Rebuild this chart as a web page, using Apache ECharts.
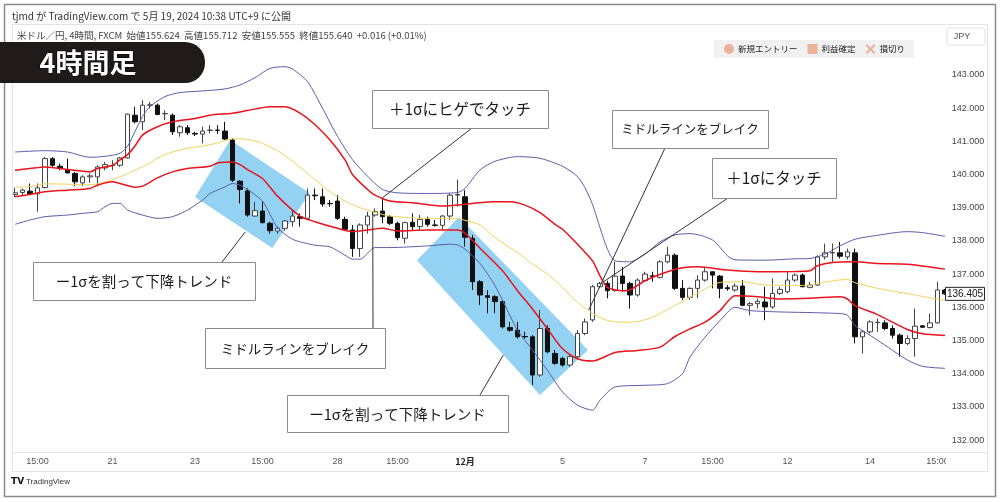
<!DOCTYPE html>
<html><head><meta charset="utf-8">
<script src="https://cdn.jsdelivr.net/npm/echarts@6/dist/echarts.min.js"></script>
<style>html,body{margin:0;padding:0;background:#fff}#c{width:1000px;height:502px}</style>
</head><body><div id="c"></div>
<script>
// ---- data: 4h candles [open, close, low, high] ----
const candles = [
[139.40,139.45,139.32,139.60],[139.46,139.53,139.38,139.58],[139.50,139.42,139.38,139.73],[139.42,139.60,138.88,139.73],
[139.61,140.48,139.58,140.53],[140.48,140.28,140.23,140.53],[140.25,140.18,140.13,140.33],[140.15,140.05,140.03,140.48],
[140.03,139.78,139.65,140.08],[139.75,139.93,139.65,139.98],[139.93,139.96,139.75,140.03],[139.93,140.23,139.65,140.28],
[140.20,140.30,140.13,140.38],[140.27,140.28,140.13,140.43],[140.28,140.50,140.23,140.53],[140.50,141.82,140.48,141.84],
[141.79,141.59,141.54,142.04],[141.59,142.09,141.34,142.24],[142.09,142.10,141.99,142.19],[142.09,141.81,141.79,142.14],
[141.83,141.84,141.64,141.94],[141.79,141.29,141.19,141.84],[141.26,141.44,141.14,141.49],[141.41,141.26,141.19,141.49],
[141.24,141.22,141.16,141.29],[141.22,141.31,140.94,141.44],[141.33,141.34,141.24,141.49],[141.34,141.33,141.22,141.49],
[141.31,141.07,141.04,141.59],[141.04,139.83,139.78,141.09],[139.80,139.55,139.13,139.83],[139.51,138.78,138.73,139.58],
[138.75,138.91,138.73,139.18],[138.90,138.55,138.53,139.18],[138.53,138.31,138.22,138.58],[138.30,138.38,138.22,138.43],
[138.38,138.60,138.31,138.63],[138.58,138.75,138.43,138.93],[138.73,138.68,138.43,138.83],[138.68,139.38,138.63,139.58],
[139.38,139.36,139.23,139.58],[139.33,139.11,139.03,139.58],[139.13,139.12,139.03,139.23],[139.20,138.68,138.63,139.38],
[138.65,138.35,138.33,138.73],[138.33,137.77,137.52,138.48],[137.77,138.48,137.52,138.53],[138.48,138.75,138.22,138.88],
[138.78,138.88,138.73,138.98],[138.90,138.73,138.53,139.30],[138.73,138.53,138.48,138.78],[138.53,138.10,138.02,138.58],
[138.08,138.55,137.92,138.58],[138.56,138.43,138.33,138.83],[138.43,138.65,138.33,138.78],[138.65,138.50,138.43,138.73],
[138.48,138.47,138.43,138.63],[138.47,138.75,138.33,138.78],[138.75,139.38,138.63,139.43],[139.38,139.40,139.03,139.85],
[139.33,138.11,137.83,139.53],[138.08,136.77,136.52,138.18],[136.77,136.37,136.07,136.82],[136.35,136.30,135.82,136.52],
[136.32,136.17,135.82,136.37],[136.17,135.41,135.36,136.22],[135.39,135.31,135.26,135.56],[135.31,135.11,135.06,135.56],
[135.12,135.11,135.06,135.26],[135.11,133.96,133.66,135.16],[133.96,135.36,133.91,135.92],[135.36,134.66,134.61,135.46],
[134.61,134.31,134.26,134.71],[134.46,134.26,134.21,134.51],[134.26,134.51,134.21,134.56],[134.51,135.21,134.46,135.31],
[135.21,135.56,135.16,135.66],[135.62,136.62,135.56,136.67],[136.62,136.72,136.57,136.77],[136.72,136.50,136.27,136.80],
[136.51,136.94,136.47,137.37],[136.94,136.72,136.47,137.22],[136.72,136.37,135.96,136.77],[136.37,136.82,136.32,136.87],
[136.80,137.00,136.77,137.07],[136.95,136.93,136.77,137.07],[136.90,137.37,136.87,137.42],[137.37,137.57,137.32,137.82],
[137.57,136.57,136.52,137.62],[136.57,136.30,136.22,136.82],[136.30,136.57,136.22,136.60],[136.57,136.82,136.27,136.97],
[136.82,137.07,136.77,137.22],[137.07,136.97,136.57,137.07],[136.94,136.57,136.27,136.97],[136.59,136.56,136.50,136.67],
[136.52,136.64,136.47,136.72],[136.64,136.06,136.03,136.82],[136.06,136.11,135.76,136.16],[136.11,136.18,135.96,136.26],
[136.16,136.01,135.61,136.62],[136.01,136.42,135.96,136.87],[136.42,136.54,136.37,136.62],[136.47,136.82,136.42,137.07],
[136.82,136.97,136.77,137.02],[136.97,136.62,136.60,137.02],[136.60,136.67,136.57,136.77],[136.67,137.52,136.64,137.57],
[137.52,137.64,137.44,137.92],[137.64,137.65,137.37,137.92],[137.64,137.54,137.47,137.97],[137.52,137.67,137.44,137.77],
[137.64,135.11,134.91,137.77],[135.11,135.26,134.61,135.31],[135.26,135.56,135.21,135.61],[135.54,135.55,135.26,135.66],
[135.53,135.36,135.31,135.61],[135.36,135.16,135.06,135.46],[135.16,134.91,134.51,135.21],[134.91,135.06,134.86,135.16],
[135.06,135.43,134.51,135.96],[135.44,135.40,135.38,135.46],[135.39,135.53,135.36,135.81],[135.53,136.52,135.51,136.77],
[136.52,136.405,136.38,136.55]
];
// ---- Bollinger band lines: [candle index, price] ----
const upper2 = [[0,140.68],[4,140.72],[7,140.68],[10,140.52],[12,140.55],[14,140.64],[15,140.85],[16,141.3],[17,141.75],[18,142.05],[20,142.35],[22,142.47],[25,142.52],[28,142.58],[30,142.7],[32,142.92],[34,143.2],[36,143.25],[37,143.18],[39,142.8],[41,142.0],[43,141.15],[45,140.45],[47,139.95],[49,139.55],[51,139.45],[55,139.43],[59,139.46],[60,139.58],[62,140.14],[64,140.4],[67,140.54],[70,140.49],[73,140.25],[75,139.94],[76,139.6],[77,139.1],[78,138.4],[79,137.75],[80,137.4],[82,137.37],[84,137.6],[86,137.97],[88,138.18],[90,138.22],[93,138.03],[95,137.55],[96,137.43],[100,137.42],[104,137.46],[106,137.47],[108,137.6],[110,137.85],[112,138.05],[115,138.17],[119,138.28],[121,138.25],[124,138.14]];
const upper1 = [[0,140.13],[2,140.18],[4,140.23],[6,140.18],[8,140.13],[10,140.08],[11,140.18],[13,140.28],[14,140.44],[15,140.6],[16,140.86],[17,141.19],[19,141.44],[21,141.59],[24,141.69],[26,141.79],[29,141.85],[31,141.93],[34,142.04],[36,142.04],[38,141.85],[40,141.5],[42,141.04],[44,140.44],[45,140.0],[47,139.55],[48,139.38],[50,139.2],[53,139.15],[57,139.05],[59,139.08],[61,139.13],[64,139.18],[66,139.18],[68,139.08],[70,138.85],[72,138.5],[73,138.35],[75,137.9],[77,137.4],[78,136.95],[79,136.6],[81,136.5],[82,136.52],[84,136.8],[87,137.07],[89,137.19],[91,137.22],[95,137.12],[99,137.07],[104,137.08],[106,137.1],[107,137.25],[109,137.35],[112,137.37],[115,137.32],[119,137.3],[124,137.15]];
const middle = [[0,139.62],[2,139.64],[4,139.72],[7,139.71],[9,139.69],[11,139.72],[13,139.85],[14,139.93],[16,140.13],[18,140.35],[19,140.5],[21,140.68],[23,140.79],[26,140.9],[28,141.02],[29,141.08],[31,141.06],[33,140.94],[35,140.72],[37,140.4],[40,139.85],[42,139.48],[44,139.2],[46,139.0],[48,138.86],[50,138.75],[55,138.68],[59,138.68],[60,138.62],[62,138.48],[64,138.1],[67,137.65],[69,137.3],[71,137.0],[73,136.6],[75,136.15],[77,135.82],[79,135.6],[81,135.55],[83,135.57],[85,135.7],[87,135.93],[90,136.3],[92,136.55],[94,136.75],[97,136.77],[100,136.67],[104,136.66],[106,136.67],[108,136.76],[111,136.84],[112,136.74],[115,136.57],[118,136.45],[120,136.37],[124,136.2]];
const lower1 = [[0,139.33],[2,139.4],[4,139.48],[7,139.53],[10,139.58],[11,139.68],[13,139.78],[14,139.73],[16,139.62],[17,139.65],[19,139.9],[21,140.08],[23,140.18],[26,140.25],[27,140.35],[29,140.38],[30,140.3],[31,140.15],[33,139.88],[35,139.35],[38,138.75],[40,138.58],[43,138.38],[45,138.28],[47,138.33],[49,138.38],[51,138.3],[55,138.33],[59,138.33],[60,138.23],[62,137.78],[65,137.1],[67,136.5],[69,135.95],[71,135.35],[73,134.75],[75,134.45],[77,134.38],[80,134.64],[83,134.7],[86,134.8],[88,135.12],[90,135.35],[92,135.55],[94,135.9],[96,136.35],[99,136.32],[102,136.25],[106,136.27],[110,136.32],[111,136.25],[112,136.05],[115,135.78],[119,135.33],[121,135.2],[124,135.15]];
const lower2 = [[0,138.5],[2,138.63],[4,138.73],[7,138.78],[9,138.83],[11,138.88],[12,139.03],[13,139.13],[14,139.13],[15,138.93],[17,138.78],[19,138.68],[21,138.73],[23,138.93],[25,139.23],[26,139.43],[28,139.63],[29,139.73],[30,139.68],[31,139.55],[33,139.2],[34,138.8],[35,138.4],[37,138.05],[40,137.87],[42,137.82],[44,137.57],[45,137.45],[46,137.45],[48,137.8],[50,137.8],[55,137.85],[58,137.9],[59,137.88],[60,137.75],[62,137.32],[64,136.65],[66,135.75],[67,135.3],[69,134.71],[71,134.1],[73,133.45],[75,133.05],[77,132.9],[78,133.2],[80,133.6],[84,133.65],[87,133.7],[89,134.0],[90,134.5],[92,135.1],[94,135.6],[96,136.0],[98,135.9],[102,135.86],[106,135.84],[110,135.81],[111,135.76],[112,135.45],[113,135.3],[115,135.01],[119,134.41],[121,134.22],[124,134.16]];
// x tick labels: [candle index, label]
const xTickLabels = [[3,'15:00'],[13,'21'],[24,'23'],[33,'15:00'],[43,'28'],[51,'15:00'],[60,'12月'],[73,'5'],[84,'7'],[93,'15:00'],[103,'12'],[114,'14'],[123,'15:00']];
const boldTicks = ['12月'];
// trend zones (rotated rectangles) corners: [candle index, price]
const trendZones = [
  [[24,139.32],[28.7,141.04],[39.3,139.44],[34.3,137.79]],
  [[53.6,137.42],[59.2,138.72],[76.4,134.71],[70,133.36]]
];
const legendNames = ['新規エントリー','利益確定','損切り'];
const lastPrice = 136.405;
// annotations: text, tip in data coords
const notes = [
  {text:'＋1σにヒゲでタッチ', tip:[49,139.30]},
  {text:'ミドルラインをブレイク', tip:[76.5,135.92]},
  {text:'＋1σにタッチ', tip:[78.4,136.76]},
  {text:'ー1σを割って下降トレンド', tip:[30.7,138.27]},
  {text:'ミドルラインをブレイク', tip:[47.7,138.87]},
  {text:'ー1σを割って下降トレンド', tip:[65.1,134.56]}
];
// layout of annotation boxes (pixels) and line start
const noteLayout = [
  {box:[372,90,176,38], from:[472,128], size:15.5},
  {box:[612,110,156,38], from:[665,148], size:12.5},
  {box:[712,158,124,40], from:[728,198], size:15.5},
  {box:[33,262,222,38], from:[222,262], size:14.5},
  {box:[205,328,180,40], from:[373,328], size:13.5},
  {box:[287,395,221,37], from:[480,395], size:14.5}
];

const N = candles.length;
const cats = candles.map((_, i) => String(i));
const labelMap = new Map(xTickLabels);
const chart = echarts.init(document.getElementById('c'), null, {renderer:'canvas'});
const lineS = (name, data, color, w) => ({name, type:'line', xAxisIndex:1, yAxisIndex:0, data, symbol:'none', showSymbol:false,
  smooth:0.25, lineStyle:{color, width:w}, z:4, silent:true});
const salmon = '#e9a282';
const option = {
  animation:false,
  backgroundColor:'#ffffff',
  grid:{left:11.25, right:51.25, top:8.64, bottom:28.8, containLabel:false},
  legend:{data:[{name:legendNames[0], icon:'circle'},{name:legendNames[1], icon:'rect'},
    {name:legendNames[2], icon:'path://M1.5,0L5,3.5L8.5,0L10,1.5L6.5,5L10,8.5L8.5,10L5,6.5L1.5,10L0,8.5L3.5,5L0,1.5Z'}],
    left:714, top:40, itemWidth:10, itemHeight:10, itemGap:10, padding:[4,9,4,10], backgroundColor:'#f1f1f1',
    selectedMode:false, textStyle:{fontSize:8.5, color:'#1a1a1a', fontFamily:'Noto Sans CJK JP', padding:[0,0,0,-1]}},
  xAxis:[
    {type:'category', data:cats, boundaryGap:true, offset:-20, axisLine:{show:false}, axisTick:{show:false}, splitLine:{show:false},
     axisLabel:{interval:0, margin:4, fontSize:9, color:'#555', fontFamily:'Liberation Sans',
       formatter:(v, i) => { const l = labelMap.get(i); if (!l) return ''; return boldTicks.includes(l) ? '{b|' + l + '}' : l; },
       rich:{b:{fontWeight:'bold', fontSize:9, color:'#222', fontFamily:'Noto Sans CJK JP'}}}},
    {type:'value', min:-0.5, max:N - 0.5, show:false}
  ],
  yAxis:{type:'value', position:'right', min:131, max:145, interval:1, splitLine:{show:false}, axisLine:{show:false}, axisTick:{show:false},
    axisLabel:{margin:3, fontSize:9, color:'#444', fontFamily:'Liberation Sans',
      formatter:v => (v >= 132 && v <= 143) ? v.toFixed(3) : ''}},
  series:[
    {type:'custom', xAxisIndex:1, yAxisIndex:0, data:trendZones.map((z, i) => [i]), z:1, silent:true,
     renderItem:(params, api) => ({type:'polygon', shape:{points:trendZones[params.dataIndex].map(p => api.coord(p))},
       style:{fill:'#93d2f3'}})},
    {type:'candlestick', name:'USDJPY', xAxisIndex:0, yAxisIndex:0, data:candles, barWidth:5, z:3, silent:true,
     itemStyle:{color:'#ffffff', color0:'#111111', borderColor:'#444444', borderColor0:'#111111', borderWidth:1}},
    lineS('u2', upper2, '#5a5ea8', 1),
    lineS('u1', upper1, '#e8131b', 1.5),
    lineS('mid', middle, '#f3d25c', 1),
    lineS('l1', lower1, '#e8131b', 1.5),
    lineS('l2', lower2, '#5a5ea8', 1),
    {name:legendNames[0], type:'scatter', data:[], itemStyle:{color:salmon}},
    {name:legendNames[1], type:'scatter', data:[], itemStyle:{color:salmon}},
    {name:legendNames[2], type:'scatter', data:[], itemStyle:{color:salmon}}
  ]
};
chart.setOption(option);

const toPx = p => chart.convertToPixel({seriesIndex:2}, p);
const g = [];
// frame & panel
g.push({type:'rect', shape:{x:4.5, y:4.5, width:991, height:492}, style:{fill:null, stroke:'#8c8c8c', lineWidth:1.5}, z:100});
const panelLine = (x1,y1,x2,y2) => g.push({type:'line', shape:{x1,y1,x2,y2}, style:{stroke:'#e3e3e3', lineWidth:1}, z:90});
panelLine(12,24.5,988,24.5); panelLine(12.5,24,12.5,471); panelLine(987.5,24,987.5,471); panelLine(12,471.5,988,471.5); panelLine(12,452.5,988,452.5);
// mask right part of x label row
g.push({type:'rect', shape:{x:946, y:453, width:41, height:18}, style:{fill:'#fff'}, z:95});
// header text
g.push({type:'text', style:{text:'tjmd が TradingView.com で 5月 19, 2024 10:38 UTC+9 に公開', x:12, y:16, fill:'#333',
  font:'10px "Noto Sans CJK JP"', verticalAlign:'middle'}, z:100});
g.push({type:'text', style:{text:'米ドル／円, 4時間, FXCM  始値155.624  高値155.712  安値155.555  終値155.640  +0.016 (+0.01%)', x:17, y:35, fill:'#444',
  font:'9.5px "Noto Sans CJK JP"', verticalAlign:'middle'}, z:100});
// title pill
g.push({type:'rect', shape:{x:-20, y:42, width:225, height:41, r:[0,20,20,0]}, style:{fill:'#201b1a'}, z:100});
g.push({type:'text', style:{text:'4時間足', x:88, y:63, fill:'#fff', font:'bold 27px "Noto Sans CJK JP"', align:'center', verticalAlign:'middle',
  stroke:'#000', lineWidth:1}, z:101});
// JPY box
g.push({type:'rect', shape:{x:947, y:28, width:38, height:17, r:2}, style:{fill:'#fff', stroke:'#e0e0e0', lineWidth:1}, z:100});
g.push({type:'text', style:{text:'JPY', x:962, y:36.5, fill:'#555', font:'9px "Liberation Sans"', align:'center', verticalAlign:'middle'}, z:101});
// footer
g.push({type:'text', style:{text:'TV', x:11, y:482, fill:'#111', font:'bold 9px "DejaVu Sans"', verticalAlign:'middle'}, z:100});
g.push({type:'text', style:{text:'TradingView', x:26, y:482, fill:'#333', font:'8px "Liberation Sans"', verticalAlign:'middle'}, z:100});
// last price label
const lp = toPx([N - 1, lastPrice]);
g.push({type:'rect', shape:{x:945.5, y:lp[1] - 6.5, width:39, height:13}, style:{fill:'#fff', stroke:'#222', lineWidth:1}, z:100});
g.push({type:'text', style:{text:lastPrice.toFixed(3), x:965, y:lp[1], fill:'#111', font:'10px "Liberation Sans"', align:'center', verticalAlign:'middle'}, z:101});
// annotations
notes.forEach((n, i) => {
  const L = noteLayout[i];
  const t = toPx(n.tip);
  g.push({type:'line', shape:{x1:L.from[0], y1:L.from[1], x2:t[0], y2:t[1]}, style:{stroke:'#333', lineWidth:1}, z:60});
  g.push({type:'rect', shape:{x:L.box[0] + 0.5, y:L.box[1] + 0.5, width:L.box[2], height:L.box[3]}, style:{fill:'#fff', stroke:'#8a8a8a', lineWidth:1}, z:61});
  g.push({type:'text', style:{text:n.text, x:L.box[0] + L.box[2] / 2, y:L.box[1] + L.box[3] / 2 + 0.5, fill:'#1a1a1a',
    font:L.size + 'px "Noto Sans CJK JP"', align:'center', verticalAlign:'middle'}, z:62});
});
chart.setOption({graphic:{elements:g}});
</script></body></html>
